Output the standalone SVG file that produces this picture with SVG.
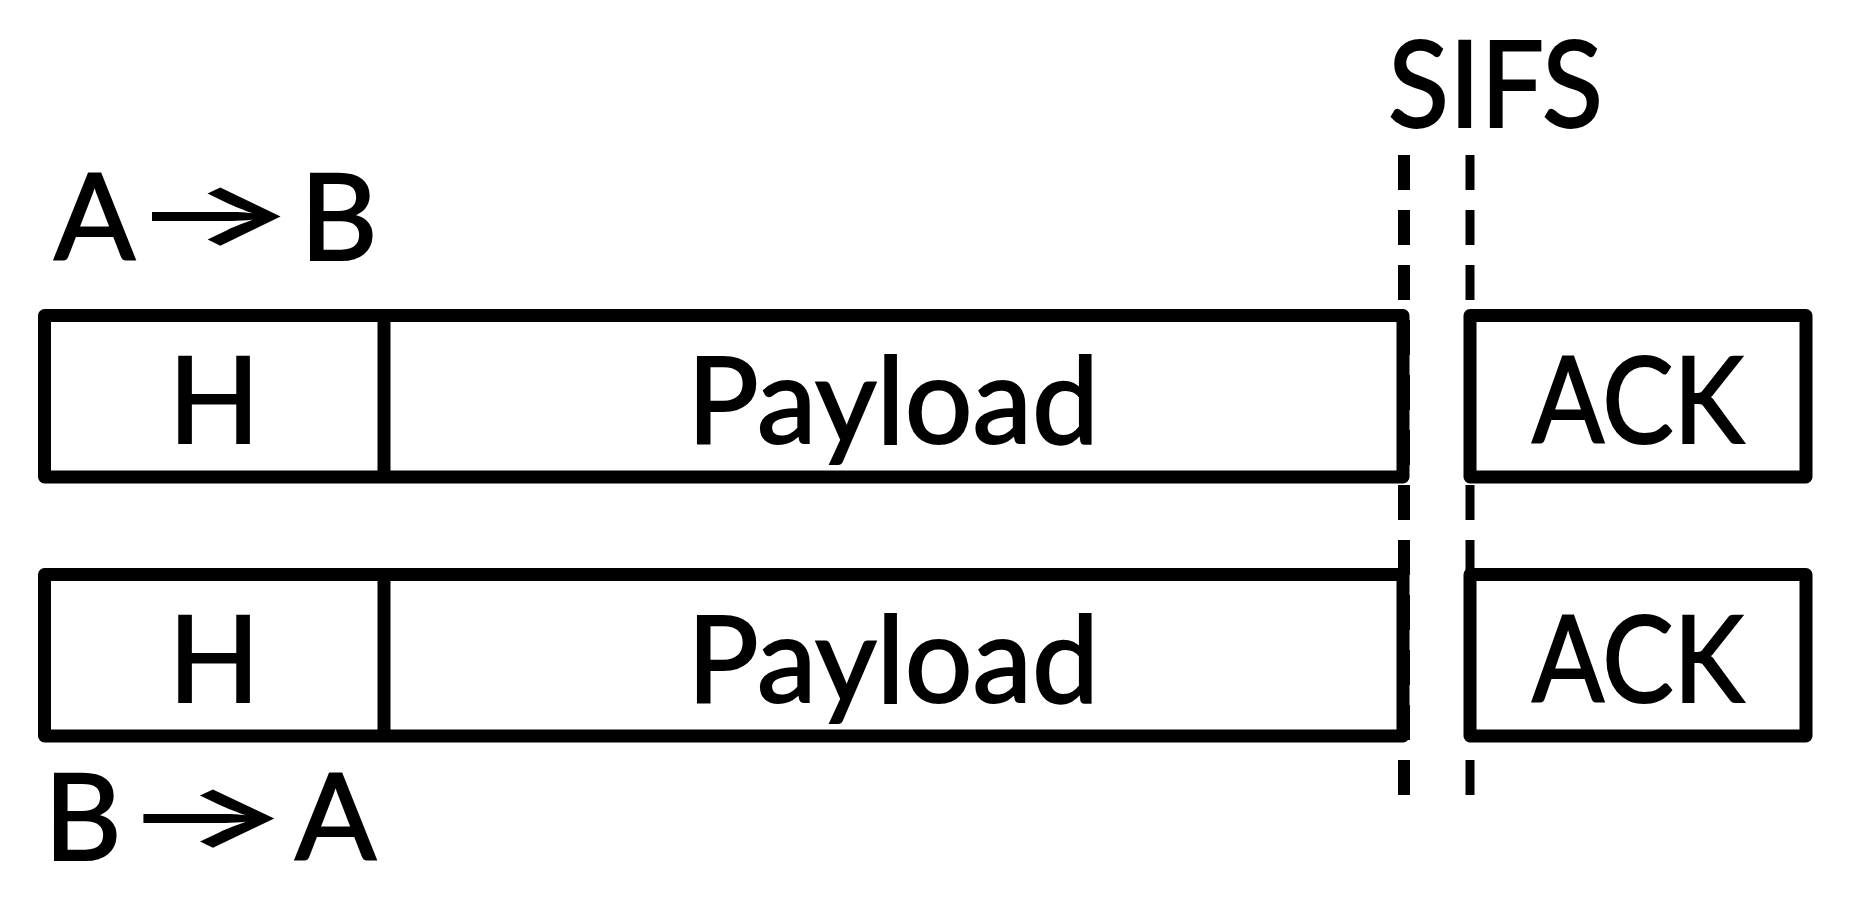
<svg xmlns="http://www.w3.org/2000/svg" width="1850" height="897" viewBox="0 0 1850 897">
<style>
.box{fill:none;stroke:#000;stroke-width:13;stroke-linejoin:round}
.div{stroke:#000;stroke-width:13}
.t{font-family:Lato,"Open Sans","Liberation Sans",sans-serif;font-size:120px;fill:#000;stroke:#000;stroke-width:2}
.arr{font-family:Inter,sans-serif;font-size:85px;font-weight:600;stroke-width:0}
.dash{stroke:#000;stroke-dasharray:35 20;fill:none}
</style>
<rect width="1850" height="897" fill="#fff"/>
<g id="label-ab">
<text class="t" y="260"><tspan x="54" y="260">A</tspan><tspan class="arr" x="130" y="244" textLength="168" lengthAdjust="spacingAndGlyphs">→</tspan><tspan x="300" y="260">B</tspan></text>
</g>
<g id="label-ba">
<text class="t" y="860"><tspan x="44" y="860">B</tspan><tspan class="arr" x="121" y="846" textLength="171" lengthAdjust="spacingAndGlyphs">→</tspan><tspan x="295" y="860">A</tspan></text>
</g>
<g id="sifs-label">
<text class="t" x="1388" y="127" textLength="215" lengthAdjust="spacingAndGlyphs">SIFS</text>
</g>
<g id="frame-ab">
<rect class="box" x="44.5" y="315.5" width="1358.5" height="161.5"/>
<line class="div" x1="384" y1="315.5" x2="384" y2="477"/>
<text class="t" x="214" y="442.5" text-anchor="middle">H</text>
<text class="t" x="687" y="442.5" textLength="412" lengthAdjust="spacingAndGlyphs">Payload</text>
</g>
<g id="ack-ab">
<rect class="box" x="1470" y="315.5" width="336" height="161.5"/>
<text class="t" x="1532" y="442.5" textLength="212" lengthAdjust="spacingAndGlyphs">ACK</text>
</g>
<g id="frame-ba">
<rect class="box" x="44.5" y="574.5" width="1358.5" height="161.5"/>
<line class="div" x1="384" y1="574.5" x2="384" y2="736"/>
<text class="t" x="214" y="702" text-anchor="middle">H</text>
<text class="t" x="687" y="702" textLength="412" lengthAdjust="spacingAndGlyphs">Payload</text>
</g>
<g id="ack-ba">
<rect class="box" x="1470" y="574.5" width="336" height="161.5"/>
<text class="t" x="1532" y="702" textLength="212" lengthAdjust="spacingAndGlyphs">ACK</text>
</g>
<g id="connectors">
<line class="dash" x1="1404" y1="155" x2="1404" y2="795" stroke-width="12"/>
<line class="dash" x1="1470" y1="155" x2="1470" y2="795" stroke-width="9"/>
</g>
</svg>
